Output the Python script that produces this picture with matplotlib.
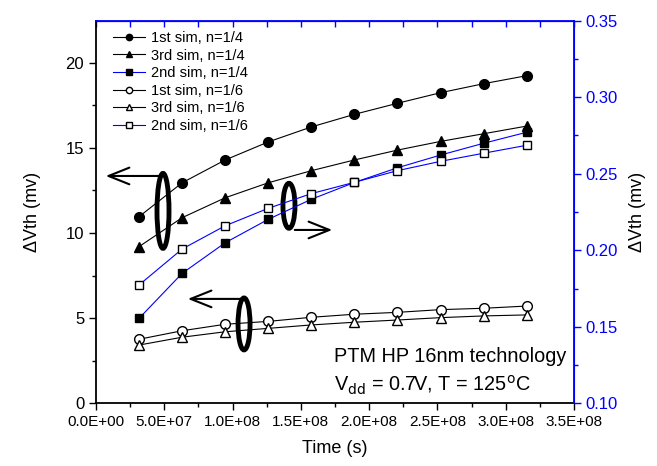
import numpy as np
import matplotlib
matplotlib.use("Agg")
import matplotlib.pyplot as plt
from matplotlib.patches import Ellipse
from matplotlib.ticker import MultipleLocator, FuncFormatter

plt.rcParams['font.family'] = ['Liberation Sans', 'DejaVu Sans']

# time points: 1..10 years in seconds
years = np.arange(1, 11)
t = years * 3.1536e7

# left axis (mV)
sim1_n4 = [10.96, 12.95, 14.29, 15.35, 16.23, 16.97, 17.62, 18.24, 18.77, 19.24]
sim3_n4 = [9.20, 10.90, 12.07, 12.95, 13.66, 14.29, 14.87, 15.38, 15.83, 16.28]
sim1_n6 = [3.76, 4.26, 4.64, 4.81, 5.05, 5.23, 5.34, 5.50, 5.58, 5.71]
sim3_n6 = [3.42, 3.88, 4.20, 4.40, 4.60, 4.76, 4.89, 5.03, 5.13, 5.19]
# right axis (mV)
sim2_n4 = [0.1555, 0.1849, 0.2049, 0.2202, 0.2333, 0.2443, 0.2539, 0.2622, 0.2699, 0.2771]
sim2_n6 = [0.1773, 0.2008, 0.2160, 0.2274, 0.2370, 0.2444, 0.2520, 0.2581, 0.2634, 0.2686]

blue = '#0000ff'

fig = plt.figure(figsize=(6.57, 4.66), dpi=100)
ax = fig.add_axes([0.1461, 0.1346, 0.7276, 0.821])
ax2 = ax.twinx()

ms = 7
h1, = ax.plot(t, sim1_n4, '-o', color='black', lw=0.8, ms=ms, mfc='black', label='1st sim, n=1/4')
h2, = ax.plot(t, sim3_n4, '-^', color='black', lw=0.8, ms=ms + 0.5, mfc='black', label='3rd sim, n=1/4')
h4, = ax.plot(t, sim1_n6, '-o', color='black', lw=0.8, ms=ms, mfc='white', label='1st sim, n=1/6')
h5, = ax.plot(t, sim3_n6, '-^', color='black', lw=0.8, ms=ms + 0.5, mfc='white', label='3rd sim, n=1/6')
h3, = ax2.plot(t, sim2_n4, '-s', color=blue, lw=0.8, ms=ms - 1.3, mfc='black', mec='black', label='2nd sim, n=1/4')
h6, = ax2.plot(t, sim2_n6, '-s', color=blue, lw=0.8, ms=ms - 1.3, mfc='white', mec='black', label='2nd sim, n=1/6')

ax.set_xlim(0, 3.5e8)
ax.set_ylim(0, 22.47)
ax2.set_ylim(0.10, 0.35)

ax.xaxis.set_major_locator(MultipleLocator(0.5e8))
ax.xaxis.set_minor_locator(MultipleLocator(0.25e8))
ax.xaxis.set_major_formatter(FuncFormatter(lambda v, p: '%.1E' % v))
ax.yaxis.set_major_locator(MultipleLocator(5))
ax.yaxis.set_minor_locator(MultipleLocator(2.5))
ax2.yaxis.set_major_locator(MultipleLocator(0.05))
ax2.yaxis.set_minor_locator(MultipleLocator(0.025))
ax2.yaxis.set_major_formatter(FuncFormatter(lambda v, p: '%.2f' % v))

ax.tick_params(axis='x', which='major', direction='out', length=5, width=1, labelsize=11, top=False)
ax.tick_params(axis='x', which='minor', direction='out', length=3, width=1, top=False)
ax.tick_params(axis='y', which='major', direction='out', length=5, width=1, labelsize=12)
ax.tick_params(axis='y', which='minor', direction='out', length=3, width=1)
ax2.tick_params(axis='y', which='major', direction='out', length=5, width=1, colors=blue, labelsize=12)
ax2.tick_params(axis='y', which='minor', direction='out', length=3, width=1, colors=blue)

# top axis ticks point inward and are blue
secx = ax.secondary_xaxis('top')
secx.xaxis.set_major_locator(MultipleLocator(0.5e8))
secx.xaxis.set_minor_locator(MultipleLocator(0.25e8))
secx.tick_params(which='both', direction='in', length=4, width=1, colors=blue, labeltop=False)
secx.spines['top'].set_color(blue)

for sp in ['left', 'bottom']:
    ax.spines[sp].set_linewidth(1.3)
ax2.spines['right'].set_color(blue)
ax2.spines['right'].set_linewidth(1.3)
ax2.spines['top'].set_color(blue)
ax2.spines['top'].set_linewidth(1.3)
ax.spines['top'].set_color(blue)
ax.spines['right'].set_color(blue)
ax2.spines['left'].set_visible(False)
ax2.spines['bottom'].set_visible(False)

ax.set_xlabel('Time (s)', fontsize=13, labelpad=8)
ax.set_ylabel('\u0394Vth (mv)', fontsize=13, labelpad=18)
ax2.set_ylabel('\u0394Vth (mv)', fontsize=13, labelpad=8)

leg = ax.legend(handles=[h1, h2, h3, h4, h5, h6], loc='upper left', frameon=False,
                fontsize=10.5, markerscale=0.65, handlelength=2.2, handletextpad=0.4,
                labelspacing=0.25, borderaxespad=0.3, bbox_to_anchor=(0.015, 1.0))

# ellipses and arrows
ell_kw = dict(fill=False, lw=3.5, ec='black')
ax.add_patch(Ellipse((0.4906e8, 11.30), 0.088e8, 4.40, **ell_kw))
ax.add_patch(Ellipse((1.413e8, 11.6), 0.088e8, 2.64, **ell_kw))
ax.add_patch(Ellipse((1.084e8, 4.66), 0.088e8, 3.05, **ell_kw))
arr = dict(arrowstyle='->,head_length=1.5,head_width=0.6', lw=1.5, color='black')
ax.annotate('', xy=(0.051e8, 13.35), xytext=(0.4906e8, 13.35), arrowprops=arr)
ax.annotate('', xy=(1.75e8, 10.18), xytext=(1.435e8, 10.18), arrowprops=arr)
ax.annotate('', xy=(0.652e8, 6.13), xytext=(1.084e8, 6.13), arrowprops=arr)

ax.text(0.497, 0.108, 'PTM HP 16nm technology', transform=ax.transAxes, fontsize=14.3)
ax.text(0.497, 0.031, 'V$_{\\rm dd}$ = 0.7V, T = 125$^{\\rm o}$C', transform=ax.transAxes, fontsize=14.3)

fig.savefig('out.png', dpi=100)
